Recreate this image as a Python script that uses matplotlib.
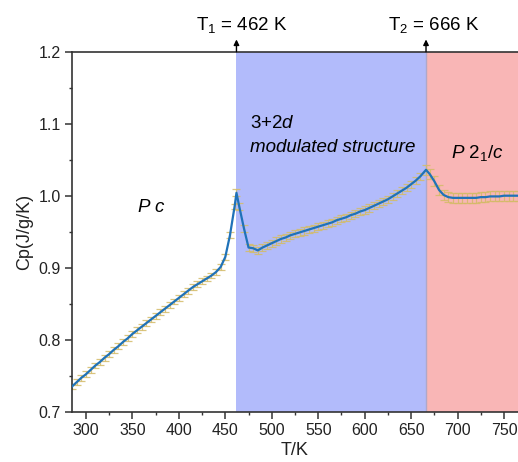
import matplotlib
matplotlib.use("Agg")
import matplotlib.pyplot as plt
from matplotlib.ticker import MultipleLocator

plt.rcParams['font.family'] = ['Liberation Sans', 'DejaVu Sans']
plt.rcParams['mathtext.fontset'] = 'custom'
plt.rcParams['mathtext.rm'] = 'Liberation Sans'
plt.rcParams['mathtext.it'] = 'Liberation Sans:italic'

# ---- data ----
temperature = [285, 290, 295, 300, 305, 310, 315, 320, 325, 330, 335, 340, 345, 350,
               355, 360, 365, 370, 375, 380, 385, 390, 395, 400, 405, 410, 415, 420,
               425, 430, 435, 440, 445, 450, 455, 460, 462, 465, 470, 475, 480, 485,
               490, 495, 500, 505, 510, 515, 520, 525, 530, 535, 540, 545, 550, 555,
               560, 565, 570, 575, 580, 585, 590, 595, 600, 605, 610, 615, 620, 625,
               630, 635, 640, 645, 650, 655, 660, 666, 670, 675, 680, 685, 690, 695,
               700, 705, 710, 715, 720, 725, 730, 735, 740, 745, 750, 755, 760, 765]
cp = [0.735, 0.741, 0.747, 0.752, 0.758, 0.764, 0.769, 0.775, 0.780, 0.786, 0.791,
      0.797, 0.802, 0.808, 0.813, 0.818, 0.823, 0.828, 0.833, 0.838, 0.843, 0.848,
      0.853, 0.858, 0.863, 0.868, 0.873, 0.877, 0.881, 0.885, 0.889, 0.894, 0.901,
      0.915, 0.945, 0.985, 1.004, 0.985, 0.955, 0.928, 0.927, 0.924, 0.928, 0.931,
      0.934, 0.937, 0.940, 0.942, 0.945, 0.947, 0.949, 0.951, 0.953, 0.955, 0.957,
      0.959, 0.961, 0.963, 0.966, 0.968, 0.970, 0.973, 0.975, 0.978, 0.980, 0.983,
      0.986, 0.989, 0.992, 0.995, 0.999, 1.003, 1.007, 1.011, 1.016, 1.021, 1.027,
      1.036, 1.030, 1.020, 1.008, 1.001, 0.998, 0.997, 0.997, 0.997, 0.997, 0.997,
      0.997, 0.998, 0.998, 0.999, 0.999, 0.999, 1.000, 1.000, 1.000, 1.000]
cp_err = ([0.004] * 36) + ([0.005] * 41) + ([0.007] * 21)

T1 = 462
T2 = 666
x_range = (285, 765)
y_range = (0.7, 1.2)
x_ticks = [300, 350, 400, 450, 500, 550, 600, 650, 700, 750]
y_ticks = [0.7, 0.8, 0.9, 1.0, 1.1, 1.2]

fig = plt.figure(figsize=(5.18, 4.62), dpi=100)
ax = fig.add_axes([72 / 518, (462 - 411.7) / 462, (518 - 72) / 518, 360 / 462])

ax.axvspan(T1, T2, color='#b2bbfb', lw=0, zorder=0)
ax.axvspan(T2, x_range[1], color='#f9b6b6', lw=0, zorder=0)
ax.axvline(T2, color='#b0a8c8', lw=1.0, zorder=0.5)

ax.errorbar(temperature, cp, yerr=cp_err, fmt='none', ecolor='#d4bb68',
            elinewidth=0.9, capsize=3.2, capthick=0.9, alpha=0.85, zorder=2)
ax.plot(temperature, cp, color='#1f72b8', lw=1.6, zorder=3)

ax.set_xlim(*x_range)
ax.set_ylim(*y_range)
ax.set_xticks(x_ticks)
ax.set_yticks(y_ticks)
ax.set_yticklabels([f"{v:.1f}" for v in y_ticks])
ax.xaxis.set_minor_locator(MultipleLocator(25))
ax.yaxis.set_minor_locator(MultipleLocator(0.05))

for s in ['left', 'bottom', 'top']:
    ax.spines[s].set_color('#333333')
    ax.spines[s].set_linewidth(1.2)
ax.spines['right'].set_visible(False)
ax.tick_params(which='major', direction='out', length=5, width=1.1, color='#333333',
               labelsize=11.5, labelcolor='#222222', pad=3)
ax.tick_params(which='minor', direction='out', length=2.5, width=1.0, color='#333333')
ax.tick_params(top=False, right=False, which='both')

ax.set_xlabel('T/K', fontsize=13, labelpad=3, color='#222222')
ax.set_ylabel('Cp(J/g/K)', fontsize=13, labelpad=4, color='#222222')

# arrows and transition labels
for t, lbl, tx in [(T1, r'T$_1$ = 462 K', 468), (T2, r'T$_2$ = 666 K', 674)]:
    ax.annotate('', xy=(t, 1.217), xytext=(t, 1.2), annotation_clip=False,
                arrowprops=dict(arrowstyle='-|>', color='black', lw=1.0,
                                mutation_scale=8, shrinkA=0, shrinkB=0))
    ax.text(tx, 1.237, lbl, ha='center', va='center', fontsize=13.5, clip_on=False)

ax.text(370.6, 0.983, r'$\mathit{P\ c}$', ha='center', va='center', fontsize=13.5)
ax.text(476.7, 1.10, r'3+2$\mathit{d}$', ha='left', va='center', fontsize=13.5)
ax.text(476.7, 1.067, 'modulated structure', ha='left', va='center',
        fontsize=13.5, style='italic')
ax.text(721, 1.059, r'$\mathit{P\ 2_1/c}$', ha='center', va='center', fontsize=13.5)

fig.savefig('out.png', dpi=100)
